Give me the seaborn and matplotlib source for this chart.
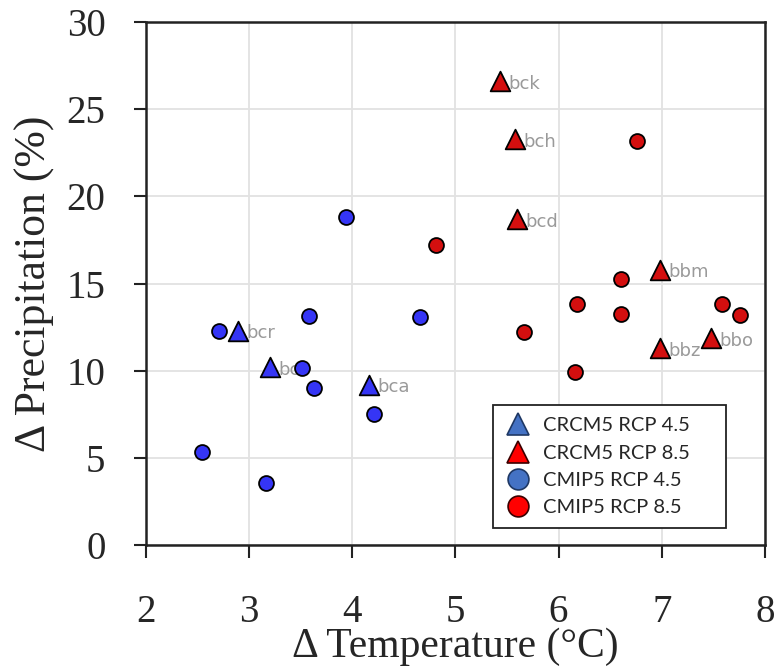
import numpy as np
import pandas as pd
import matplotlib
matplotlib.use('Agg')
import matplotlib.pyplot as plt
import seaborn as sns
from matplotlib.lines import Line2D

# CRCM5 (triangles, labelled)
crcm5_45_temp = [2.89, 3.20, 4.16]
crcm5_45_prec = [12.3, 10.2, 9.2]
crcm5_45_name = ['bcr', 'bcs', 'bca']

crcm5_85_temp = [5.43, 5.58, 5.60, 6.98, 6.98, 7.48]
crcm5_85_prec = [26.6, 23.3, 18.7, 15.8, 11.3, 11.85]
crcm5_85_name = ['bck', 'bch', 'bcd', 'bbm', 'bbz', 'bbo']

# CMIP5 (circles)
cmip5_45_temp = [3.94, 2.71, 3.58, 3.51, 3.63, 4.21, 4.66, 2.545, 3.17]
cmip5_45_prec = [18.8, 12.3, 13.15, 10.15, 9.0, 7.5, 13.1, 5.35, 3.55]

cmip5_85_temp = [4.81, 6.76, 6.61, 6.18, 6.61, 7.585, 7.76, 5.67, 6.16]
cmip5_85_prec = [17.2, 23.2, 15.25, 13.85, 13.25, 13.85, 13.2, 12.2, 9.95]

legend_labels = ['CRCM5 RCP 4.5', 'CRCM5 RCP 8.5', 'CMIP5 RCP 4.5', 'CMIP5 RCP 8.5']

blue = '#3535f5'
red = '#d40f0f'

sns.set_style('whitegrid')
plt.rcParams['font.family'] = ['Liberation Serif', 'DejaVu Serif']

fig = plt.figure(figsize=(7.75, 6.72), dpi=100)
ax = fig.add_axes([0.188, 0.189, 0.799, 0.778])

tri_45 = pd.DataFrame({'t': crcm5_45_temp, 'p': crcm5_45_prec})
tri_85 = pd.DataFrame({'t': crcm5_85_temp, 'p': crcm5_85_prec})
cir_45 = pd.DataFrame({'t': cmip5_45_temp, 'p': cmip5_45_prec})
cir_85 = pd.DataFrame({'t': cmip5_85_temp, 'p': cmip5_85_prec})

# labels first so the circles sit on top
for t, p, n in zip(crcm5_45_temp + crcm5_85_temp, crcm5_45_prec + crcm5_85_prec,
                   crcm5_45_name + crcm5_85_name):
    ax.annotate(n, (t, p), xytext=(6, -2), textcoords='offset points',
                ha='left', va='center', color='#9a9a9a', fontsize=13,
                family='DejaVu Sans', zorder=2)

sns.scatterplot(data=tri_45, x='t', y='p', marker='^', color=blue, s=200,
                edgecolor='black', linewidth=1.3, ax=ax, zorder=3, legend=False)
sns.scatterplot(data=tri_85, x='t', y='p', marker='^', color=red, s=200,
                edgecolor='black', linewidth=1.3, ax=ax, zorder=3, legend=False)
sns.scatterplot(data=cir_45, x='t', y='p', marker='o', color=blue, s=115,
                edgecolor='black', linewidth=1.3, ax=ax, zorder=4, legend=False)
sns.scatterplot(data=cir_85, x='t', y='p', marker='o', color=red, s=115,
                edgecolor='black', linewidth=1.3, ax=ax, zorder=4, legend=False)

ax.set_xlim(2, 8)
ax.set_ylim(0, 30)
ax.set_xticks(range(2, 9))
ax.set_yticks(range(0, 31, 5))
ax.grid(True, color='#e2e2e2', linewidth=1.3)
for s in ax.spines.values():
    s.set_color('#222222')
    s.set_linewidth(1.8)
ax.tick_params(axis='both', which='major', labelsize=28, direction='out',
               length=9, width=1.5, color='#222222', left=True, bottom=True)
ax.tick_params(axis='x', pad=26)
ax.tick_params(axis='y', pad=20)
ax.set_xlabel('Δ Temperature (°C)', fontsize=30, labelpad=-2)
ax.set_ylabel('Δ Precipitation (%)', fontsize=31.5, labelpad=8)

handles = [
    Line2D([], [], linestyle='', marker='^', markersize=16, markerfacecolor='#4472c4',
           markeredgecolor='#1f3864', markeredgewidth=1.2),
    Line2D([], [], linestyle='', marker='^', markersize=16, markerfacecolor='#ff0000',
           markeredgecolor='#3a0000', markeredgewidth=1.2),
    Line2D([], [], linestyle='', marker='o', markersize=15, markerfacecolor='#4472c4',
           markeredgecolor='#1f3864', markeredgewidth=1.2),
    Line2D([], [], linestyle='', marker='o', markersize=15, markerfacecolor='#ff0000',
           markeredgecolor='#3a0000', markeredgewidth=1.2),
]
leg = ax.legend(handles, legend_labels, loc='lower left',
                bbox_to_anchor=(0.5606, 0.0325, 0.376, 0.0), mode='expand',
                borderaxespad=0, frameon=True, fancybox=False, edgecolor='#222222',
                framealpha=1, prop={'family': 'Lato', 'size': 14.5},
                handletextpad=0.6, labelspacing=0.5, borderpad=0.6,
                handlelength=1.3)
leg.get_frame().set_linewidth(1.3)

fig.savefig('out.png', dpi=100)
